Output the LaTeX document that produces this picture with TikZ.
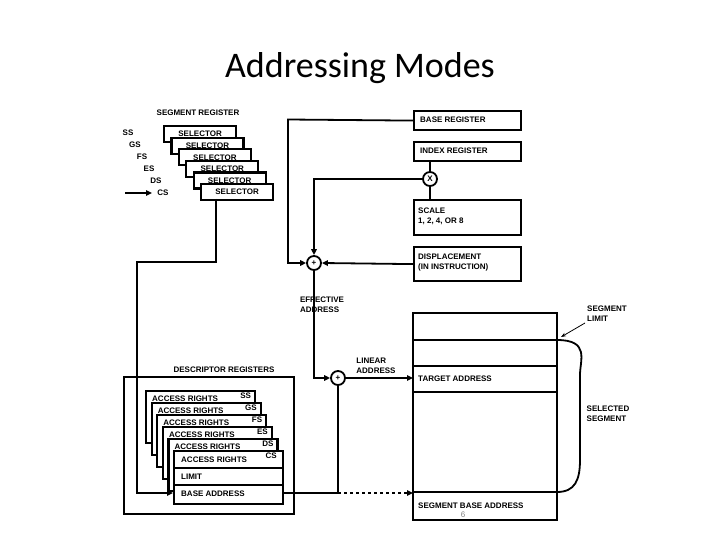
\documentclass[tikz,border=0pt]{standalone}
\usepackage{fontspec}
\setmainfont{Liberation Sans}
\newfontfamily\titlefont{Carlito}
\usetikzlibrary{arrows.meta}
\begin{document}
\begin{tikzpicture}[x=1pt,y=-1pt,
  lbl/.style={font=\fontsize{8}{10}\selectfont\bfseries,inner sep=0pt,align=left},
  box/.style={draw,line width=2.2pt,fill=white},
  wire/.style={line width=1.8pt},
  arr/.style={wire,-{Triangle[length=6pt,width=5.5pt]}},
  op/.style={draw,circle,line width=1.8pt,minimum size=14pt,inner sep=0pt,fill=white,font=\fontsize{8}{9}\selectfont\bfseries}]
\useasboundingbox (0,0) rectangle (720,540);
\node[font=\titlefont\fontsize{36}{40}\selectfont] (title) at (360,68) {Addressing Modes};
% segment registers
\node[lbl] (segreg) at (198,113) {SEGMENT REGISTER};
\foreach \i/\n in {0/SS,1/GS,2/FS,3/ES,4/DS,5/CS}{
  \node[box,minimum width=72pt,minimum height=16pt,anchor=north west,lbl] (sel\i) at ({163+7.4*\i},{125+11.6*\i}) {SELECTOR};
  \node[lbl] (sl\i) at ({128+7*\i},{133+12*\i}) {\n};
}
\coordinate (csin) at (152,193);
\draw[arr] (125,193) -- (csin);
% descriptor registers
\node[lbl] (descl) at (224,370) {DESCRIPTOR REGISTERS};
\draw[line width=2.2pt] (124,377) rectangle (294,514);
\foreach \i/\n in {0/SS,1/GS,2/FS,3/ES,4/DS}{
  \node[box,minimum width=109pt,minimum height=52pt,anchor=north west] (d\i) at ({145+5.6*\i},{390+12*\i}) {};
  \node[lbl,anchor=north west] at ([xshift=7pt,yshift=-6pt]d\i.north west) {ACCESS RIGHTS};
  \node[lbl,anchor=north east] at ([xshift=-5pt,yshift=-3pt]d\i.north east) {\n};
}
\node[box,minimum width=109pt,minimum height=53pt,anchor=north west] (d5) at (173,450) {};
\draw[line width=2.2pt] (173,468) -- (282,468) (173,485) -- (282,485);
\node[lbl,anchor=west] (ar) at (181,460) {ACCESS RIGHTS};
\node[lbl,anchor=north east] at (277,453) {CS};
\node[lbl,anchor=west] (lim) at (181,477) {LIMIT};
\node[lbl,anchor=west] (base) at (181,494) {BASE ADDRESS};
\coordinate (basein) at (173,493);
\draw[arr] (216,199) -- (216,262) -- (137,262) -- (137,493) -- (basein);
% right column
\node[box,minimum width=107pt,minimum height=19pt,anchor=north west] (br) at (413,110) {};
\node[lbl,anchor=west] at (420,119.5) {BASE REGISTER};
\node[box,minimum width=107pt,minimum height=19pt,anchor=north west] (ir) at (413,141) {};
\node[lbl,anchor=west] at (420,150.5) {INDEX REGISTER};
\node[box,minimum width=107pt,minimum height=35pt,anchor=north west] (sc) at (413,199) {};
\node[lbl,anchor=west] at (418,216.5) {SCALE\\1, 2, 4, OR 8};
\node[box,minimum width=107pt,minimum height=34pt,anchor=north west] (dp) at (413,246) {};
\node[lbl,anchor=west] at (418,263) {DISPLACEMENT\\(IN INSTRUCTION)};
\node[op] (mul) at (430,179) {X};
\draw[wire] (ir.south -| mul) -- (mul) -- (sc.north -| mul);
\node[op] (add1) at (314,263) {+};
\draw[arr] (br.west) -- (288,119.5) -- (288,263) -- (add1.west);
\draw[arr] (mul.west) -- (314,179) -- (add1.north);
\draw[arr] (dp.west) -- (add1.east);
\node[lbl] (ea) at (322,305) {EFFECTIVE\\ADDRESS};
\node[op] (add2) at (338,378) {+};
\draw[arr] (add1.south) -- (314,378) -- (add2.west);
\node[lbl] (la) at (376,366) {LINEAR\\ADDRESS};
% segment
\draw[line width=2.2pt] (413,313) rectangle (557,520);
\foreach \y in {340,366,392,492} \draw[line width=2.2pt] (413,\y) -- (557,\y);
\coordinate (tgt) at (413,378);
\coordinate (sba) at (413,493);
\node[lbl,anchor=west] at (418,378.5) {TARGET ADDRESS};
\node[lbl,anchor=west] at (418,506) {SEGMENT BASE ADDRESS};
\draw[arr] (add2.east) -- (tgt);
\draw[wire] (282,493) -- (338,493) -- (add2.south);
\draw[arr,dashed] (338,493) -- (sba);
\draw[line width=1.8pt] (557,340) .. controls (590,340) and (580,360) .. (580,375) -- (580,460) .. controls (580,480) and (575,492) .. (557,492);
\node[lbl] (sl) at (607,314) {SEGMENT\\LIMIT};
\draw[-{Stealth[length=5pt]},line width=0.8pt] (585,323) -- (561,337);
\node[lbl] (ss) at (608,414) {SELECTED\\SEGMENT};
\node[font=\fontsize{8}{9}\selectfont,text=gray] (pg) at (463,515) {6};
\end{tikzpicture}
\end{document}
